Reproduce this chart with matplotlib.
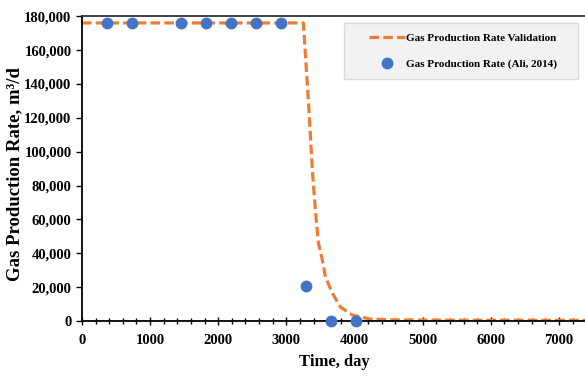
import matplotlib.pyplot as plt
from matplotlib.lines import Line2D
from matplotlib.legend_handler import HandlerLine2D
from matplotlib.ticker import MultipleLocator, FuncFormatter

# simulated (validation) curve
sim_days = [0, 3250, 3324, 3382, 3426, 3471, 3529, 3574, 3676, 3794, 3971, 4235, 4600, 5500, 6500, 7400]
sim_rate = [176000, 176000, 130000, 89000, 65500, 46000, 36000, 26000, 16500, 8300, 3500, 1200, 700, 550, 500, 500]

# reference data (Ali, 2014)
ref_days = [365, 730, 1460, 1825, 2190, 2555, 2920, 3285, 3650, 4015]
ref_rate = [176000, 176000, 176000, 176000, 176000, 176000, 176000, 21000, 300, 0]

plt.rcParams['font.family'] = ['Liberation Serif', 'DejaVu Serif']
plt.rcParams['font.weight'] = 'bold'

fig = plt.figure(figsize=(5.85, 3.76), dpi=100)
ax = fig.add_axes([0.140, 0.146, 0.862, 0.811])

ax.plot(sim_days, sim_rate, color='#ED7D31', linewidth=2.3, linestyle=(0, (3.0, 1.3)),
        label='Gas Production Rate Validation    ', zorder=2)
ax.plot(ref_days, ref_rate, linestyle='none', marker='o', markersize=7.5,
        color='#4472C4', label='Gas Production Rate (Ali, 2014)    ', zorder=3, clip_on=False)

ax.set_xlim(0, 7400)
ax.set_ylim(0, 180000)
ax.xaxis.set_major_locator(MultipleLocator(1000))
ax.xaxis.set_minor_locator(MultipleLocator(200))
ax.yaxis.set_major_locator(MultipleLocator(20000))
ax.yaxis.set_major_formatter(FuncFormatter(lambda v, p: f'{int(v):,}'))

ax.tick_params(axis='x', which='major', direction='inout', length=6, width=1, labelsize=10.5, pad=6)
ax.tick_params(axis='x', which='minor', direction='inout', length=5, width=1)
ax.tick_params(axis='y', which='major', direction='out', length=4, width=1, labelsize=10.5)

for lab in ax.get_xticklabels() + ax.get_yticklabels():
    lab.set_fontweight('bold')

for side in ['left', 'bottom']:
    ax.spines[side].set_linewidth(1.3)
ax.spines['top'].set_linewidth(1.3)
ax.spines['top'].set_color('#333333')
ax.spines['right'].set_visible(False)

ax.set_xlabel('Time, day', fontsize=12, fontweight='bold', labelpad=5)
ax.set_ylabel('Gas Production Rate, m³/d', fontsize=13.5, fontweight='bold')
ax.yaxis.set_label_coords(-0.117, 0.482)

leg = ax.legend(loc='upper right', bbox_to_anchor=(0.984, 0.977), borderaxespad=0,
                fontsize=8, frameon=True, fancybox=False, borderpad=0.9,
                labelspacing=1.45, handlelength=4.6, handletextpad=0.1,
                handler_map={Line2D: HandlerLine2D(xpad=1.4)})
leg.get_frame().set_facecolor('#f2f2f2')
leg.get_frame().set_edgecolor('#d9d9d9')
leg.get_frame().set_alpha(1)
for t in leg.get_texts():
    t.set_fontweight('bold')

plt.savefig('out.png', dpi=100)
